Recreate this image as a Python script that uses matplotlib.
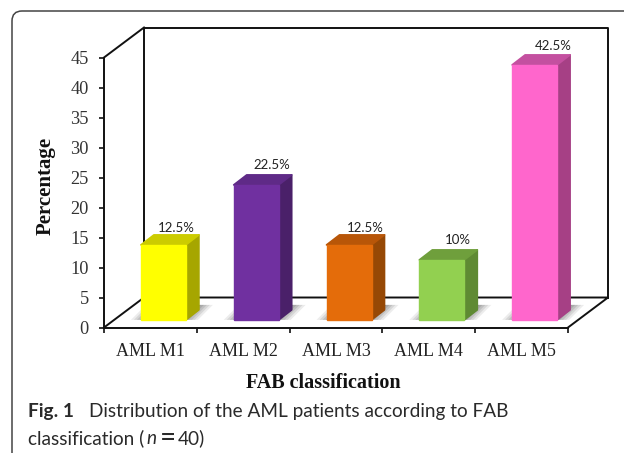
import matplotlib
matplotlib.use("Agg")
import matplotlib.pyplot as plt
from matplotlib.patches import Polygon, PathPatch
from matplotlib.path import Path

categories = ["AML M1", "AML M2", "AML M3", "AML M4", "AML M5"]
values = [12.5, 22.5, 12.5, 10, 42.5]
value_labels = ["12.5%", "22.5%", "12.5%", "10%", "42.5%"]
front_colors = ["#FFFF00", "#7030A0", "#E46C0A", "#92D050", "#FF66CC"]
side_colors = ["#A6A600", "#4A2069", "#964805", "#5F8A33", "#A64085"]
top_colors = ["#CCCC00", "#5F2A87", "#B85608", "#6F9F3C", "#C450A0"]
yticks = list(range(0, 50, 5))
label_shift_x = [13, 16, 16, 16, 19]
label_shift_y = [17, 20, 17, 20, 18.5]

W, H = 624, 453
fig = plt.figure(figsize=(W / 100, H / 100), dpi=100, facecolor="white")

page = fig.add_axes([0, 0, 1, 1])
page.set_xlim(0, W)
page.set_ylim(H, 0)
page.axis("off")
r = 10
page.add_patch(PathPatch(Path([(12, H), (12, 11 + r), (12, 11), (12 + r, 11), (W, 11)],
                              [Path.MOVETO, Path.LINETO, Path.CURVE3, Path.CURVE3, Path.LINETO]),
                         fill=False, ec="#444444", lw=1.1))

px_x, px_y = 92.8, 6.0
ax = fig.add_axes([104 / W, 1 - 327.5 / H, 464 / W, 270 / H])
ax.set_xlim(-0.5, 4.5)
ax.set_ylim(0, 45)
ax.patch.set_alpha(0)
for s in ("top", "right"):
    ax.spines[s].set_visible(False)
for s in ("left", "bottom"):
    ax.spines[s].set_linewidth(1.4)
    ax.spines[s].set_color("#111111")

DX, DY = 40 / px_x, 30 / px_y
line = dict(color="#111111", lw=1.4, clip_on=False, zorder=1, solid_capstyle="projecting")
ax.plot([-0.5, -0.5 + DX], [45, 45 + DY], **line)
ax.plot([-0.5 + DX, -0.5 + DX, 4.5 + DX, 4.5 + DX], [DY, 45 + DY, 45 + DY, DY], **line)
ax.plot([-0.5, -0.5 + DX, 4.5 + DX, 4.5], [0, DY, DY, 0], **line)

bw = 45 / px_x
ox, oy = 13 / px_x, 7.6 / px_y
sx, sy = 13 / px_x, 10 / px_y

for i, v in enumerate(values):
    l, rr = i - bw / 2 + ox, i + bw / 2 + ox
    for k, a in [(0, 0.12), (3, 0.16), (6, 0.20), (9, 0.24), (12, 0.24)]:
        ex = k / px_x
        ax.add_patch(Polygon([(l - 10 / px_x + ex, oy), (rr + 12 / px_x - ex, oy),
                              (rr + 27 / px_x - ex, oy + 15 / px_y),
                              (l + 5 / px_x + ex, oy + 15 / px_y)],
                             closed=True, fc="#666666", ec="none", alpha=a,
                             clip_on=False, zorder=2))
    ax.bar(i + ox, v, width=bw, bottom=oy, color=front_colors[i],
           edgecolor=front_colors[i], lw=1.0, zorder=5, clip_on=False)
    top = oy + v
    ax.add_patch(Polygon([(rr, oy), (rr + sx, oy + sy), (rr + sx, top + sy), (rr, top)],
                         closed=True, fc=side_colors[i], ec=side_colors[i], lw=1.2,
                         joinstyle="round", clip_on=False, zorder=4))
    ax.add_patch(Polygon([(l, top), (l + sx, top + sy), (rr + sx, top + sy), (rr, top)],
                         closed=True, fc=top_colors[i], ec=top_colors[i], lw=1.2,
                         joinstyle="round", clip_on=False, zorder=4))
    ax.annotate(value_labels[i], (i + ox, top), xytext=(label_shift_x[i], label_shift_y[i]),
                textcoords="offset pixels", ha="center", va="center",
                family="Lato", fontsize=9.5, color="#222222", zorder=6)

ax.set_xticks([x - 0.5 for x in range(6)])
ax.set_xticklabels([])
ax.set_yticks(yticks, labels=[str(t) for t in yticks], family="Liberation Serif",
              fontsize=13.2, color="#333333")
ax.tick_params(axis="both", direction="out", length=3.5, width=1.2, color="#111111")
ax.tick_params(axis="y", pad=7.5)
for i, c in enumerate(categories):
    ax.annotate(c, (i, 0), xytext=(0, -24.5), textcoords="offset pixels",
                ha="center", va="center", family="Liberation Serif",
                fontsize=13, color="#222222", annotation_clip=False)

page.text(46, 186, "Percentage", rotation=90, ha="center", va="center",
          family="Liberation Serif", weight="bold", fontsize=15, color="#111111")
page.text(323, 383, "FAB classification", ha="center", va="center",
          family="Liberation Serif", weight="bold", fontsize=14.5, color="#111111")

cap = dict(family="Lato", fontsize=13.65, color="#2a2a2a", va="baseline")
page.text(28, 416.5, "Fig. 1", weight="bold", **cap)
page.text(89, 416.5, "Distribution of the AML patients according to FAB", **cap)
page.text(28, 444, "classification (", **cap)
page.text(146, 444, "n", style="italic", **cap)
page.text(160, 445.5, "=", family="Lato", fontsize=20, color="#2a2a2a", va="baseline")
page.text(178, 444, "40)", **cap)

fig.savefig("out.png", dpi=100, facecolor="white")
